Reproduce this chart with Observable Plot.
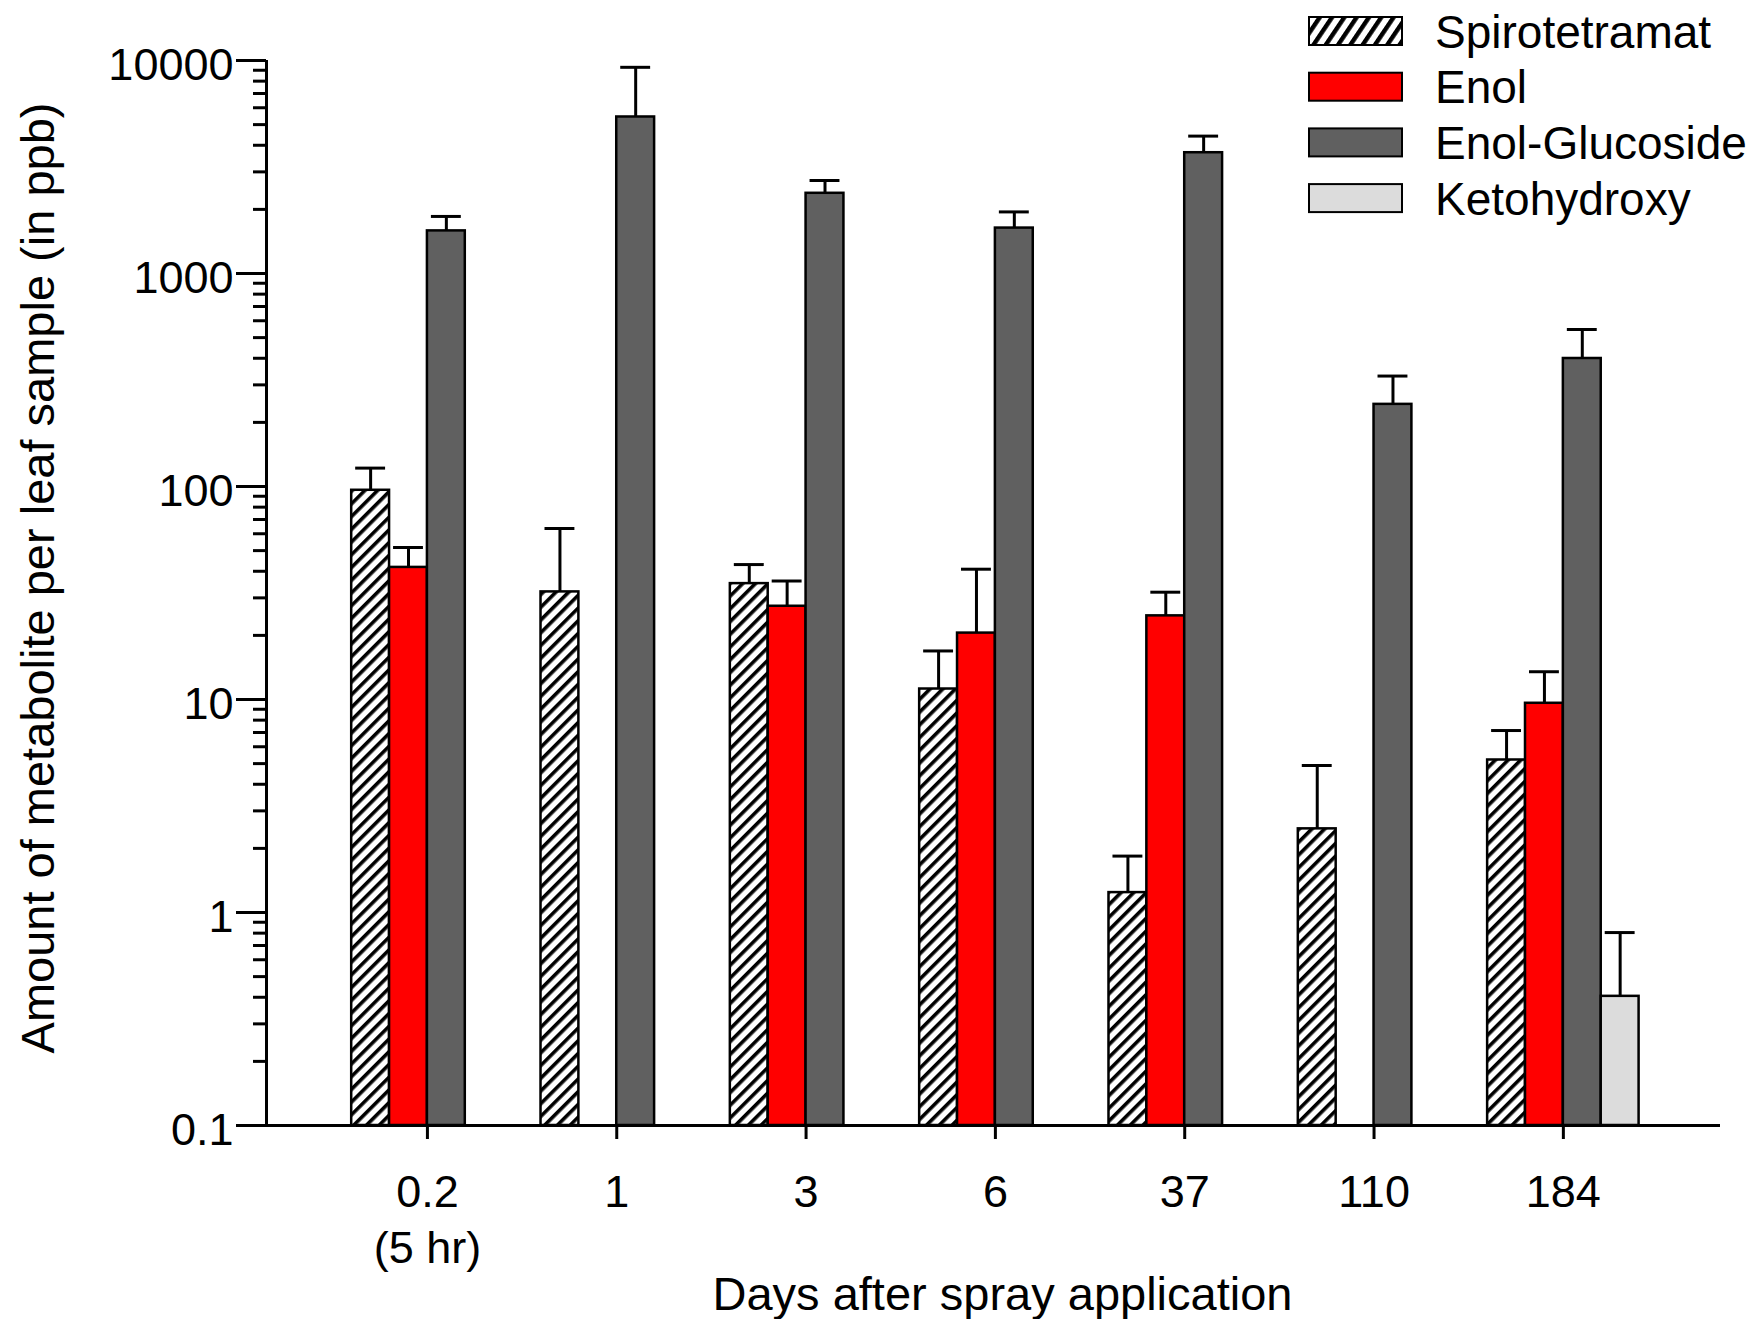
<!DOCTYPE html>
<html>
<head>
<meta charset="utf-8">
<script src="https://cdn.jsdelivr.net/npm/d3@7"></script>
<script src="https://cdn.jsdelivr.net/npm/@observablehq/plot@0.6"></script>
<style>
  html, body { margin: 0; padding: 0; background: #fff; }
  #wrap { position: relative; width: 1754px; height: 1319px; font-family: "Liberation Sans", Arial, sans-serif; }
  #legend { position: absolute; left: 0; top: 0; }
</style>
</head>
<body>
<div id="wrap"></div>
<script>
// ---- data ----
const days = ["0.2\n(5 hr)", "1", "3", "6", "37", "110", "184"];
const seriesNames = ["Spirotetramat", "Enol", "Enol-Glucoside", "Ketohydroxy"];
const seriesFills = ["url(#hatch)", "#ff0000", "#606060", "#dcdcdc"];
const legendFills = ["url(#hatchLegend)", "#ff0000", "#606060", "#dcdcdc"];

const spirotetramat   = [96, 32, 35, 11.2, 1.24, 2.47, 5.2];
const spirotetramatHi = [122, 63.5, 43, 16.9, 1.84, 4.9, 7.15];
const enol            = [41.7, null, 27.4, 20.5, 24.7, null, 9.6];
const enolHi          = [51.7, null, 36, 40.9, 31.9, null, 13.5];
const glucoside       = [1585, 5430, 2380, 1634, 3690, 243, 399];
const glucosideHi     = [1853, 9290, 2733, 1946, 4416, 330, 546];
const ketohydroxy     = [null, null, null, null, null, null, 0.404];
const ketohydroxyHi   = [null, null, null, null, null, null, 0.805];

const yTicks = [0.1, 1, 10, 100, 1000, 10000];
const yTickLabels = ["0.1", "1", "10", "100", "1000", "10000"];
const yLabel = "Amount of metabolite per leaf sample (in ppb)";
const xLabel = "Days after spray application";

// ---- build table ----
const values = [spirotetramat, enol, glucoside, ketohydroxy];
const highs = [spirotetramatHi, enolHi, glucosideHi, ketohydroxyHi];
const data = [];
seriesNames.forEach((s, si) => days.forEach((d, gi) => {
  const v = values[si][gi];
  if (v != null) data.push({day: d, gi, series: s, si, value: v, hi: highs[si][gi]});
}));

const slot = 0.2;          // one bar's share of a category step
const capHalf = 0.079;     // half width of error-bar caps
const nSeries = seriesNames.length;
const x1 = d => d.gi + (d.si - nSeries / 2) * slot;
const x2 = d => x1(d) + slot;
const xc = d => x1(d) + slot / 2;
const xDomain = [-0.85, days.length - 1 + 0.83];

const minorTicks = yTicks.slice(0, -1).flatMap(t => d3.range(2, 10).map(m => +(t * m).toPrecision(3)));
const font = '"Liberation Sans", Arial, sans-serif';

const plot = Plot.plot({
  width: 1754,
  height: 1319,
  marginTop: 60,
  marginBottom: 194,
  marginLeft: 266,
  marginRight: 34,
  style: {fontFamily: font, color: "#000", background: "#fff", overflow: "visible"},
  x: {type: "linear", domain: xDomain},
  y: {type: "log", domain: [yTicks[0], yTicks[yTicks.length - 1]]},
  color: {type: "ordinal", domain: seriesNames, range: seriesFills},
  marks: [
    Plot.rectY(data, {x1, x2, y1: () => yTicks[0], y2: "value", fill: "series", stroke: "#000", strokeWidth: 2.5}),
    Plot.ruleX(data, {x: xc, y1: "value", y2: "hi", stroke: "#000", strokeWidth: 3}),
    Plot.ruleY(data, {y: "hi", x1: d => xc(d) - capHalf, x2: d => xc(d) + capHalf, stroke: "#000", strokeWidth: 3}),
    // axis lines
    Plot.ruleX([xDomain[0]], {stroke: "#000", strokeWidth: 3}),
    Plot.ruleY([yTicks[0]], {stroke: "#000", strokeWidth: 3}),
    // y axis ticks & labels
    Plot.axisY(minorTicks, {tickSize: 13, tickFormat: () => "", strokeWidth: 3, label: null}),
    Plot.axisY(yTicks, {tickSize: 30, tickFormat: () => "", strokeWidth: 3, label: null}),
    Plot.axisY(yTicks, {tickSize: 0, tickPadding: 33, tickFormat: d => yTickLabels[yTicks.indexOf(d)], fontSize: 45, dy: 5, label: null}),
    // x axis ticks & labels
    Plot.axisX(d3.range(days.length), {tickSize: 14, tickPadding: 28, tickFormat: i => days[i], fontSize: 45, lineHeight: 1.24, strokeWidth: 3, label: null}),
    // axis titles
    Plot.text([yLabel], {text: d => d, frameAnchor: "left", textAnchor: "middle", rotate: -90, dx: -213, dy: -15, fontSize: 47, lineAnchor: "bottom"}),
    Plot.text([xLabel], {text: d => d, frameAnchor: "bottom", textAnchor: "middle", dx: 9, dy: 184, fontSize: 47, lineAnchor: "bottom"})
  ]
});

d3.select(plot).insert("defs", ":first-child").html(`
  <pattern id="hatch" patternUnits="userSpaceOnUse" width="9" height="9" patternTransform="rotate(45)">
    <rect width="9" height="9" fill="#fff"></rect>
    <rect width="3.6" height="9" fill="#000"></rect>
  </pattern>
  <pattern id="hatchLegend" patternUnits="userSpaceOnUse" width="10.2" height="10.2" patternTransform="rotate(34)">
    <rect width="10.2" height="10.2" fill="#fff"></rect>
    <rect width="4.4" height="10.2" fill="#000"></rect>
  </pattern>`);

const wrap = document.getElementById("wrap");
wrap.appendChild(plot);

// ---- legend (top right) ----
const leg = d3.select(wrap).append("svg")
  .attr("id", "legend")
  .attr("width", 1754).attr("height", 240)
  .style("pointer-events", "none");
const rowStep = 55.7;
seriesNames.forEach((s, i) => {
  const top = 17 + i * rowStep;
  leg.append("rect")
    .attr("x", 1309).attr("y", top).attr("width", 93).attr("height", 28)
    .attr("fill", legendFills[i]).attr("stroke", "#000").attr("stroke-width", 2);
  leg.append("text")
    .attr("x", 1435).attr("y", top + 14 + 16.5)
    .attr("font-family", font).attr("font-size", 46).attr("fill", "#000")
    .text(s);
});
</script>
</body>
</html>
